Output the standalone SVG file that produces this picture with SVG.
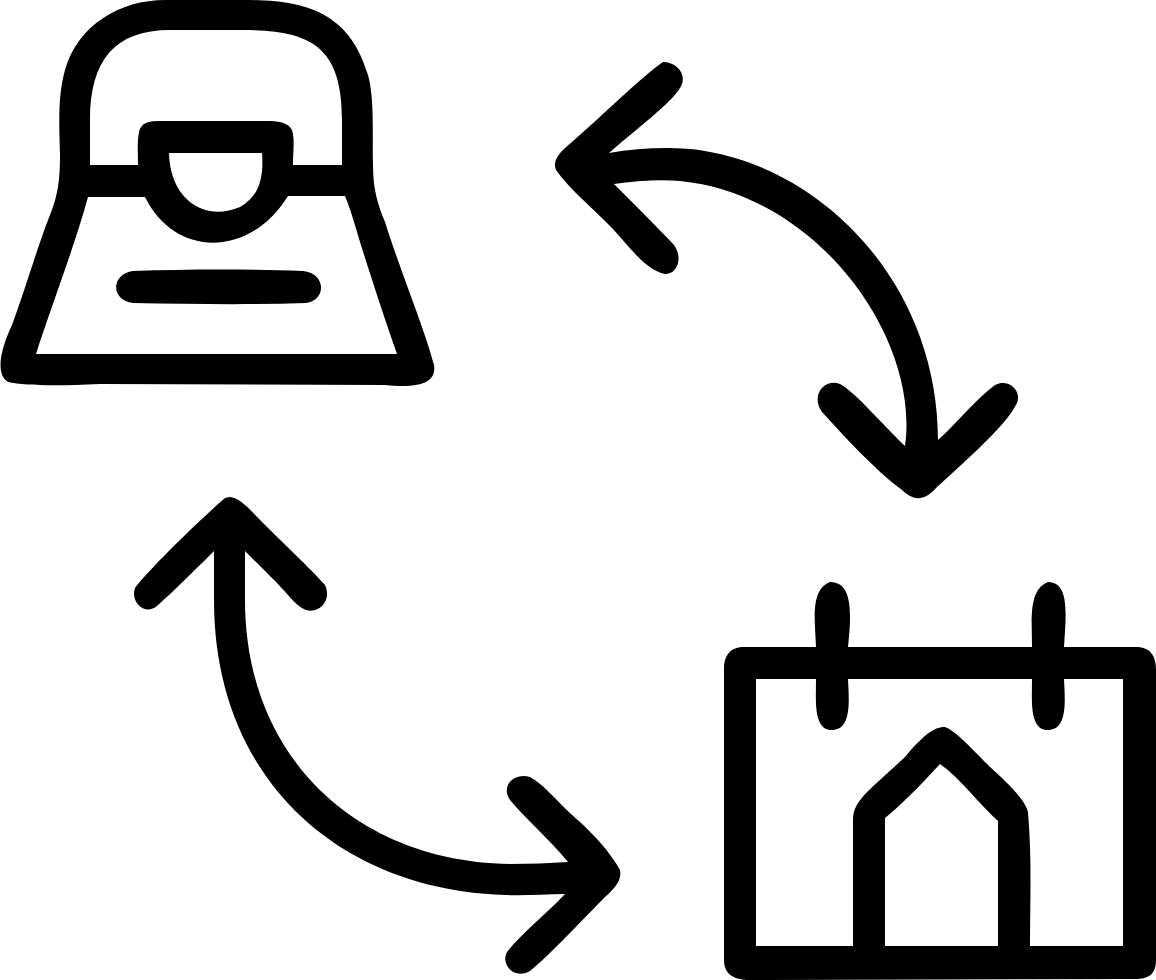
<svg xmlns="http://www.w3.org/2000/svg" width="1156" height="980" viewBox="0 0 1156 980">
<style>
.s{fill:#000;fill-rule:evenodd;stroke:none}
</style>
<rect width="1156" height="980" fill="#fff"/>
<path id="shop" class="s" d="M165,0 L245,0 C310,0 350,15 368,75 C375,100 372,140 373,165 C373,190 378,205 385,222 C400,270 425,330 434,365 C437,385 415,388 385,385 L100,384 C60,386 25,386 8,382 C-3,375 -2,355 12,325 C25,290 38,245 50,215 C58,195 60,180 60,155 C59,120 58,95 65,70 C78,25 120,0 165,0 Z
M90,165 L90,120 C90,60 115,30 170,30 L240,30 C310,30 342,45 342,120 L342,165 L293,165 C293,150 295,140 292,130 C288,122 278,121 265,121 L165,121 C150,121 142,121 139,132 C137,142 138,155 138,165 Z
M169,153 L262,153 C264,180 258,197 240,207 C205,222 170,200 169,153 Z
M88,197 L145,197 C175,258 250,258 288,196 L345,196 C350,208 355,225 360,242 C372,280 385,320 397,354 L36,354 C50,310 75,245 88,197 Z
M133,271 C190,269 250,269 303,271 C326,273 327,300 306,303 C250,305 190,304 133,303 C110,300 111,274 133,271 Z"/>
<g id="connectors">
<path id="arrow-top" class="s" d="M663,62 C678,62 688,76 680,88 C670,104 640,126 609,153 C640,148 675,146 705,151 C830,172 938,290 938,440 C955,425 975,400 995,385 C1008,378 1022,390 1017,403 C1005,428 960,465 932,492 C922,501 912,500 902,490 C875,470 845,437 822,412 C810,395 825,378 840,384 C855,392 880,422 905,446 C920,340 820,195 680,181 C660,179 635,181 614,184 C635,205 658,228 674,245 C683,257 678,274 665,274 C645,270 628,245 612,228 C595,210 570,190 556,170 C552,160 560,152 572,142 C600,118 640,78 663,62 Z"/>
<path id="arrow-bottom" class="s" d="M229,497 C240,497 250,510 262,522 C282,542 310,568 325,585 C332,600 320,614 306,610 C295,606 285,590 270,576 C262,568 253,559 245,551 L245,600 C245,760 360,862 510,864 C530,864 550,863 568,862 C550,840 525,818 510,800 C500,785 515,772 530,777 C545,785 560,805 580,822 C595,836 610,852 620,870 C622,880 615,888 605,897 C585,917 550,955 530,971 C515,980 500,965 507,952 C520,935 545,915 565,894 C545,894 525,896 505,895 C340,890 214,780 214,600 L214,551 C200,565 175,590 157,606 C145,616 130,602 135,588 C150,568 205,515 225,498 Z"/>
</g>
<path id="calendar" class="s" d="M745,647 L816,647 C815,620 810,590 830,582 C852,582 852,610 848,647 L1032,647 C1032,620 1028,590 1048,582 C1070,582 1066,615 1064,647 L1135,647 C1150,647 1156,655 1156,670 L1156,960 C1156,975 1148,979 1135,979 L750,980 C732,980 724,973 724,960 L724,670 C724,655 730,647 745,647 Z
M756,679 L816,679 C816,700 813,730 832,730 C852,730 849,700 848,679 L1032,679 C1032,700 1029,730 1048,730 C1068,730 1065,700 1064,679 L1123,679 L1123,946 L1030,946 C1030,900 1032,860 1028,812 C1025,800 1010,785 990,767 C975,752 955,730 945,727 C935,727 925,733 905,757 C870,790 853,800 853,820 L853,946 L756,946 Z
M885,946 L885,818 C905,802 925,780 940,764 C960,778 980,805 998,821 L998,946 Z"/>
</svg>
